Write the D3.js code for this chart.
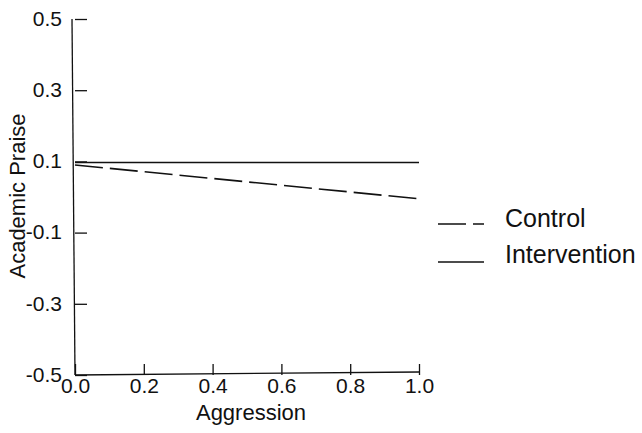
<!DOCTYPE html>
<html><head><meta charset="utf-8">
<script src="https://cdn.jsdelivr.net/npm/d3@7"></script>
<style>body{margin:0;background:#fff}svg{display:block;font-family:Arial,"Liberation Sans",sans-serif}</style>
</head><body><svg id="c" width="642" height="433"></svg>
<script>
const xTicks = [0.0, 0.2, 0.4, 0.6, 0.8, 1.0];
const yTicks = [0.5, 0.3, 0.1, -0.1, -0.3, -0.5];
const aggression = [0.0, 1.0];
const controlVals = [0.09, -0.005];
const interventionVals = [0.097, 0.097];
const seriesNames = ["Control", "Intervention"];

const svg = d3.select("#c");
const x = d3.scaleLinear().domain([0, 1]).range([75, 419]);
const y = d3.scaleLinear().domain([-0.5, 0.5]).range([375, 19]);
const ink = "#111";
const fmt = d => d.toFixed(1);

// y axis
const yAxis = svg.append("g").attr("transform", `translate(${x(0)},0)`)
  .call(d3.axisRight(y).tickValues(yTicks).tickSize(12).tickFormat(fmt));
yAxis.select(".domain").remove();
yAxis.selectAll("line").attr("stroke", ink).attr("stroke-width", 1.3);
yAxis.selectAll("text").attr("x", -13).attr("text-anchor", "end").attr("dy", "0.3em")
  .attr("font-size", 21).attr("fill", ink);
svg.append("line").attr("x1", x(0)-3).attr("x2", x(0)).attr("y1", y(0.5)).attr("y2", y(-0.5))
  .attr("stroke", ink).attr("stroke-width", 1.3);

// x axis
const xAxis = svg.append("g").attr("transform", `translate(0,${y(-0.5)})`)
  .call(d3.axisTop(x).tickValues(xTicks).tickSize(11).tickFormat(fmt));
xAxis.select(".domain").remove();
xAxis.selectAll("line").attr("stroke", ink).attr("stroke-width", 1.3);
xAxis.selectAll("text").attr("y", 18).attr("dy", "0em").attr("text-anchor", "middle")
  .attr("font-size", 21).attr("fill", ink);
svg.append("line").attr("x1", x(0)).attr("x2", x(1)).attr("y1", y(-0.5)).attr("y2", y(-0.5)-3)
  .attr("stroke", ink).attr("stroke-width", 1.3);

// labels
svg.append("text").attr("x", 251).attr("y", 420).attr("text-anchor", "middle")
  .attr("font-size", 22).attr("fill", ink).text("Aggression");
svg.append("text").attr("transform", "translate(25,196) rotate(-90)").attr("text-anchor", "middle")
  .attr("font-size", 22).attr("fill", ink).text("Academic Praise");

// lines
const line = d3.line().x((d,i) => x(aggression[i])).y(d => y(d));
svg.append("path").datum(interventionVals).attr("d", line).attr("fill", "none")
  .attr("stroke", ink).attr("stroke-width", 1.6);
svg.append("path").datum(controlVals).attr("d", line).attr("fill", "none")
  .attr("stroke", ink).attr("stroke-width", 1.6).attr("stroke-dasharray", "28,7");

// legend
const leg = [
  {name: seriesNames[0], dash: "28,7", ly: 224, ty: 227},
  {name: seriesNames[1], dash: null, ly: 262, ty: 263}
];
leg.forEach(l => {
  svg.append("line").attr("x1", 438).attr("x2", 484).attr("y1", l.ly).attr("y2", l.ly)
    .attr("stroke", ink).attr("stroke-width", 1.4).attr("stroke-dasharray", l.dash);
  svg.append("text").attr("x", 505).attr("y", l.ty).attr("font-size", 25).attr("fill", ink).text(l.name);
});
</script></body></html>
